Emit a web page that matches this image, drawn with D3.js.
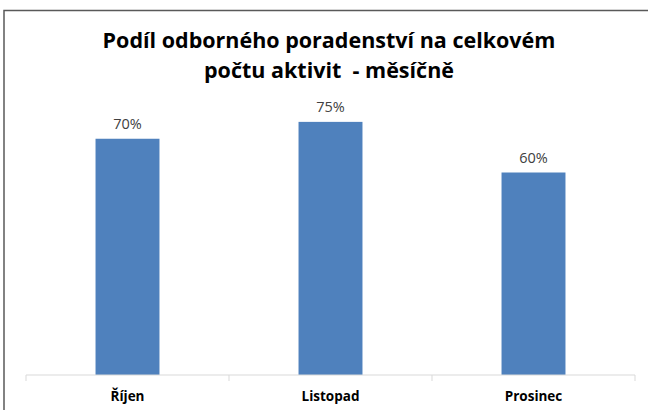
<!DOCTYPE html>
<html>
<head>
<meta charset="utf-8">
<script src="https://cdn.jsdelivr.net/npm/d3@7"></script>
<style>
  body { margin: 0; background: #fff; }
  text { font-family: "Open Sans", "Liberation Sans", sans-serif; }
</style>
</head>
<body>
<svg id="chart" width="648" height="410"></svg>
<script>
// chart data
var months = ["Říjen", "Listopad", "Prosinec"];
var shares = [0.70, 0.75, 0.60];
var titleLines = ["Podíl odborného poradenství na celkovém", "počtu aktivit  - měsíčně"];

var svg = d3.select("#chart");

// outer chart frame
svg.append("rect")
    .attr("x", 4)
    .attr("y", 10.5)
    .attr("width", 660)
    .attr("height", 420)
    .attr("fill", "none")
    .attr("stroke", "#595959")
    .attr("stroke-width", 1.5);

var margin = {left: 26, right: 13, top: 105, bottom: 35};
var width = 648 - margin.left - margin.right,
    height = 410 - margin.top - margin.bottom;

var g = svg.append("g")
    .attr("transform", "translate(" + margin.left + "," + margin.top + ")");

var xScale = d3.scaleBand()
    .domain(months)
    .range([0, width])
    .paddingInner(0.685)
    .paddingOuter(0.3425);

var yScale = d3.scaleLinear()
    .domain([0, 0.8])
    .range([height, 0]);

// bars
g.selectAll(".bar")
    .data(months)
    .enter().append("rect")
    .attr("class", "bar")
    .attr("x", function(d) { return xScale(d); })
    .attr("y", function(d, i) { return yScale(shares[i]); })
    .attr("width", xScale.bandwidth())
    .attr("height", function(d, i) { return height - yScale(shares[i]); })
    .attr("fill", "#4F81BD");

// x axis: line + ticks between categories
var xAxis = g.append("g")
    .attr("transform", "translate(0," + height + ")");

xAxis.append("line")
    .attr("x1", 0).attr("x2", width)
    .attr("stroke", "#D9D9D9");

var tickPos = d3.range(months.length + 1).map(function(i) { return i * xScale.step(); });
xAxis.selectAll(".tick")
    .data(tickPos)
    .enter().append("line")
    .attr("x1", function(d) { return d; })
    .attr("x2", function(d) { return d; })
    .attr("y1", 0).attr("y2", 6)
    .attr("stroke", "#D9D9D9");

xAxis.selectAll(".label")
    .data(months)
    .enter().append("text")
    .attr("x", function(d) { return xScale(d) + xScale.bandwidth() / 2; })
    .attr("y", 26)
    .attr("text-anchor", "middle")
    .style("font-size", "13.5px")
    .style("font-weight", "bold")
    .attr("fill", "#000")
    .text(function(d) { return d; });

// value labels
g.selectAll(".value")
    .data(months)
    .enter().append("text")
    .attr("x", function(d) { return xScale(d) + xScale.bandwidth() / 2; })
    .attr("y", function(d, i) { return yScale(shares[i]) - 10; })
    .attr("text-anchor", "middle")
    .style("font-size", "14.5px")
    .attr("fill", "#404040")
    .text(function(d, i) { return d3.format(".0%")(shares[i]); });

// title
svg.append("g").selectAll("text")
    .data(titleLines)
    .enter().append("text")
    .attr("x", 329)
    .attr("y", function(d, i) { return 48 + i * 30; })
    .attr("text-anchor", "middle")
    .style("font-size", "21.5px")
    .style("font-weight", "bold")
    .style("white-space", "pre")
    .attr("fill", "#000")
    .text(function(d) { return d; });
</script>
</body>
</html>
